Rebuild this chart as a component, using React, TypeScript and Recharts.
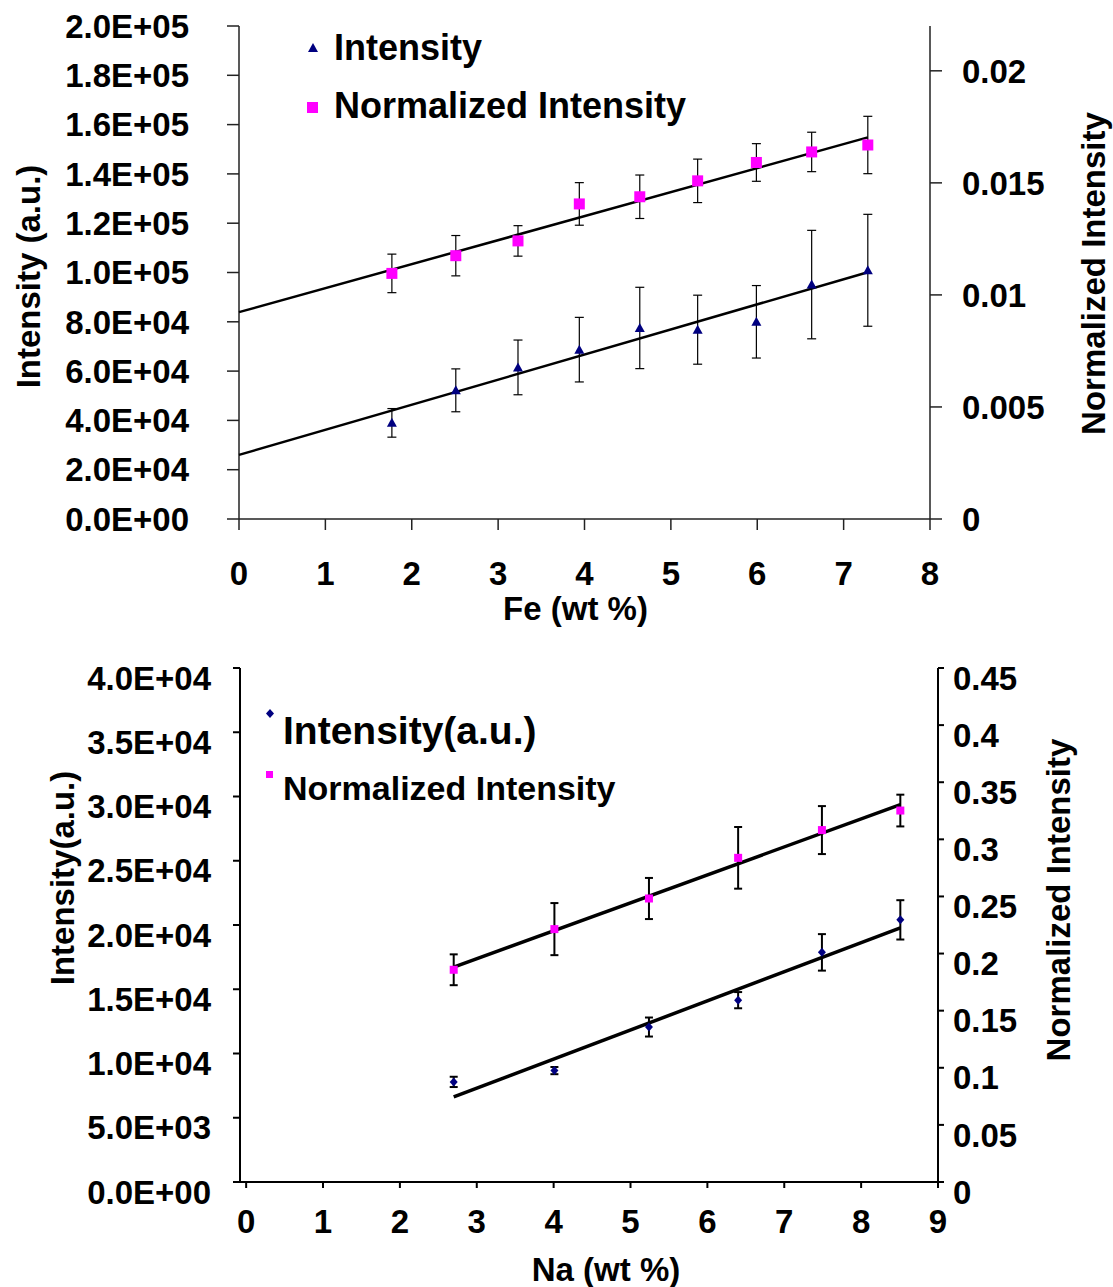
import React from 'react';
import { ComposedChart, Scatter, XAxis, YAxis, ErrorBar, Legend, Label } from 'recharts';

// Fe series (top chart)
const feWt = [1.77, 2.51, 3.23, 3.94, 4.64, 5.31, 5.99, 6.63, 7.28];
const feIntensity = [39000, 52200, 61500, 68700, 77500, 76800, 80000, 95100, 100900];
const feIntensityErr = [5800, 8700, 11100, 13100, 16500, 14000, 14700, 22000, 22700];
const feNormalized = [0.01096, 0.01175, 0.01241, 0.01406, 0.01438, 0.01509, 0.01591, 0.01638, 0.01669];
const feNormalizedErr = [0.00086, 0.0009, 0.00068, 0.00095, 0.00097, 0.00097, 0.00084, 0.00088, 0.00128];
const feFitX = [0, 7.28];
const feIntensityFit = [26000, 100100];
const feNormalizedFit = [0.00923, 0.01703];
const feXTicks = [0, 1, 2, 3, 4, 5, 6, 7, 8];
const feLeftTicks = [0, 20000, 40000, 60000, 80000, 100000, 120000, 140000, 160000, 180000, 200000];
const feRightTicks = [0, 0.005, 0.01, 0.015, 0.02];

// Na series (bottom chart)
const naWt = [2.7, 4.01, 5.24, 6.4, 7.49, 8.51];
const naIntensity = [7790, 8670, 12060, 14150, 17870, 20400];
const naIntensityErr = [400, 280, 740, 630, 1420, 1530];
const naNormalized = [0.1858, 0.2214, 0.2482, 0.2838, 0.3081, 0.3252];
const naNormalizedErr = [0.0135, 0.0228, 0.018, 0.027, 0.021, 0.0139];
const naFitX = [2.7, 8.51];
const naIntensityFit = [6620, 19780];
const naNormalizedFit = [0.1882, 0.3303];
const naXTicks = [0, 1, 2, 3, 4, 5, 6, 7, 8, 9];
const naLeftTicks = [0, 5000, 10000, 15000, 20000, 25000, 30000, 35000, 40000];
const naRightTicks = [0, 0.05, 0.1, 0.15, 0.2, 0.25, 0.3, 0.35, 0.4, 0.45];

const FONT = '"Liberation Sans", Arial, sans-serif';
const NAVY = '#000080';
const MAGENTA = '#ff00ff';

const pts = (xs: number[], ys: number[], errs?: number[]) =>
  xs.map((x, i) => ({ x, y: ys[i], err: errs ? errs[i] : 0 }));

const sci = (v: number) => {
  const [m, e] = v.toExponential(1).split('e');
  const n = Math.abs(parseInt(e, 10));
  return `${m}E${e[0] === '-' ? '-' : '+'}${n < 10 ? '0' : ''}${n}`;
};

const tickStyle = { fill: '#000', fontSize: 33, fontWeight: 'bold' as const, fontFamily: FONT };
const labelStyle = { fill: '#000', fontSize: 33, fontWeight: 'bold' as const, fontFamily: FONT, textAnchor: 'middle' as const };

const Triangle = (p: any) => (
  <polygon points={`${p.cx},${p.cy - 5} ${p.cx - 5},${p.cy + 4} ${p.cx + 5},${p.cy + 4}`} fill={NAVY} />
);
const Square = (s: number) => (p: any) => (
  <rect x={p.cx - s / 2} y={p.cy - s / 2} width={s} height={s} fill={MAGENTA} />
);
const Diamond = (p: any) => (
  <polygon points={`${p.cx},${p.cy - 4.5} ${p.cx + 4},${p.cy} ${p.cx},${p.cy + 4.5} ${p.cx - 4},${p.cy}`} fill={NAVY} />
);
const NoDot = () => <g />;

const legendText: React.CSSProperties = { fontFamily: FONT, fontWeight: 'bold', color: '#000', whiteSpace: 'nowrap' };

const TopLegend = () => (
  <div style={{ position: 'relative', width: 420, height: 110 }}>
    <svg width={14} height={12} style={{ position: 'absolute', left: 6, top: 16 }}>
      <polygon points="7,1 2,10 12,10" fill={NAVY} />
    </svg>
    <div style={{ ...legendText, position: 'absolute', left: 34, top: 2, fontSize: 36, lineHeight: '40px' }}>Intensity</div>
    <svg width={14} height={14} style={{ position: 'absolute', left: 6, top: 75 }}>
      <rect x={1} y={1} width={11} height={11} fill={MAGENTA} />
    </svg>
    <div style={{ ...legendText, position: 'absolute', left: 34, top: 60, fontSize: 36, lineHeight: '40px' }}>Normalized Intensity</div>
  </div>
);

const BottomLegend = () => (
  <div style={{ position: 'relative', width: 380, height: 100 }}>
    <svg width={10} height={10} style={{ position: 'absolute', left: 0, top: 0 }}>
      <polygon points="4,0 8,4.5 4,9 0,4.5" fill={NAVY} />
    </svg>
    <div style={{ ...legendText, position: 'absolute', left: 17, top: 0, fontSize: 39, lineHeight: '44px' }}>Intensity(a.u.)</div>
    <svg width={10} height={10} style={{ position: 'absolute', left: 0, top: 62 }}>
      <rect x={0} y={0} width={7} height={7} fill={MAGENTA} />
    </svg>
    <div style={{ ...legendText, position: 'absolute', left: 17, top: 60, fontSize: 34, lineHeight: '38px' }}>Normalized Intensity</div>
  </div>
);

function FeChart() {
  return (
    <ComposedChart width={1113} height={640} margin={{ top: 26, right: 0, bottom: 0, left: 0 }}>
      <XAxis
        type="number" dataKey="x" domain={[0, 8]} ticks={feXTicks} interval={0}
        height={121} tickSize={11} tickMargin={32} tick={tickStyle}
        axisLine={{ stroke: '#222', strokeWidth: 1.5 }} tickLine={{ stroke: '#222', strokeWidth: 1.5 }}
      >
        <Label value="Fe (wt %)" position="insideBottom" offset={20} dx={-9} style={labelStyle} />
      </XAxis>
      <YAxis
        yAxisId="left" type="number" dataKey="y" domain={[0, 200000]} ticks={feLeftTicks} interval={0}
        width={239} tickSize={12} tickMargin={38} tick={tickStyle} tickFormatter={sci}
        axisLine={{ stroke: '#222', strokeWidth: 1.5 }} tickLine={{ stroke: '#222', strokeWidth: 1.5 }}
      >
        <Label value="Intensity (a.u.)" position="insideLeft" angle={-90} offset={28} dy={4} style={labelStyle} />
      </YAxis>
      <YAxis
        yAxisId="right" orientation="right" type="number" dataKey="y" domain={[0, 0.022]} ticks={feRightTicks} interval={0}
        width={183} tickSize={12} tickMargin={20} tick={{ ...tickStyle, textAnchor: 'start' }}
        axisLine={{ stroke: '#222', strokeWidth: 1.5 }} tickLine={{ stroke: '#222', strokeWidth: 1.5 }}
      >
        <Label value="Normalized Intensity" position="insideRight" angle={-90} offset={20} dy={1} style={labelStyle} />
      </YAxis>
      <Legend content={<TopLegend />} layout="vertical" align="center" verticalAlign="middle" wrapperStyle={{ left: 300, top: 26, width: 420 }} />
      <Scatter yAxisId="left" data={pts(feFitX, feIntensityFit)} shape={NoDot} line={{ stroke: '#000', strokeWidth: 2.5 }} isAnimationActive={false} legendType="none" />
      <Scatter yAxisId="right" data={pts(feFitX, feNormalizedFit)} shape={NoDot} line={{ stroke: '#000', strokeWidth: 2.5 }} isAnimationActive={false} legendType="none" />
      <Scatter yAxisId="left" name="Intensity" data={pts(feWt, feIntensity, feIntensityErr)} shape={Triangle} isAnimationActive={false}>
        <ErrorBar dataKey="err" direction="y" width={4.5} stroke="#000" strokeWidth={1.2} />
      </Scatter>
      <Scatter yAxisId="right" name="Normalized Intensity" data={pts(feWt, feNormalized, feNormalizedErr)} shape={Square(11)} isAnimationActive={false}>
        <ErrorBar dataKey="err" direction="y" width={4.5} stroke="#000" strokeWidth={1.2} />
      </Scatter>
    </ComposedChart>
  );
}

function NaChart() {
  return (
    <ComposedChart width={1113} height={647} margin={{ top: 28, right: 0, bottom: 0, left: 0 }}>
      <XAxis
        type="number" dataKey="x" domain={[-0.08, 9]} ticks={naXTicks} interval={0} allowDataOverflow
        height={105} tickSize={6} tickMargin={22} tick={tickStyle}
        axisLine={{ stroke: '#000', strokeWidth: 2 }} tickLine={{ stroke: '#000', strokeWidth: 2 }}
      >
        <Label value="Na (wt %)" position="insideBottom" offset={6} dx={17} style={labelStyle} />
      </XAxis>
      <YAxis
        yAxisId="left" type="number" dataKey="y" domain={[0, 40000]} ticks={naLeftTicks} interval={0}
        width={240} tickSize={7} tickMargin={22} tick={{ ...tickStyle, dy: 10 }} tickFormatter={sci}
        axisLine={{ stroke: '#000', strokeWidth: 2 }} tickLine={{ stroke: '#000', strokeWidth: 2 }}
      >
        <Label value="Intensity(a.u.)" position="insideLeft" angle={-90} offset={62} dy={-47} style={labelStyle} />
      </YAxis>
      <YAxis
        yAxisId="right" orientation="right" type="number" dataKey="y" domain={[0, 0.45]} ticks={naRightTicks} interval={0}
        width={175} tickSize={6} tickMargin={9} tick={{ ...tickStyle, dy: 10, textAnchor: 'start' }}
        axisLine={{ stroke: '#000', strokeWidth: 2 }} tickLine={{ stroke: '#000', strokeWidth: 2 }}
      >
        <Label value="Normalized Intensity" position="insideRight" angle={-90} offset={55} dy={-25} style={labelStyle} />
      </YAxis>
      <Legend content={<BottomLegend />} layout="vertical" align="center" verticalAlign="middle" wrapperStyle={{ left: 266, top: 69, width: 380 }} />
      <Scatter yAxisId="left" data={pts(naFitX, naIntensityFit)} shape={NoDot} line={{ stroke: '#000', strokeWidth: 3.5 }} isAnimationActive={false} legendType="none" />
      <Scatter yAxisId="right" data={pts(naFitX, naNormalizedFit)} shape={NoDot} line={{ stroke: '#000', strokeWidth: 3.5 }} isAnimationActive={false} legendType="none" />
      <Scatter yAxisId="left" name="Intensity(a.u.)" data={pts(naWt, naIntensity, naIntensityErr)} shape={Diamond} isAnimationActive={false}>
        <ErrorBar dataKey="err" direction="y" width={4} stroke="#000" strokeWidth={2} />
      </Scatter>
      <Scatter yAxisId="right" name="Normalized Intensity" data={pts(naWt, naNormalized, naNormalizedErr)} shape={Square(8)} isAnimationActive={false}>
        <ErrorBar dataKey="err" direction="y" width={4} stroke="#000" strokeWidth={2} />
      </Scatter>
    </ComposedChart>
  );
}

export default function App() {
  return (
    <div style={{ position: 'absolute', left: 0, top: 0, width: 1113, height: 1287, background: '#fff' }}>
      <FeChart />
      <NaChart />
    </div>
  );
}
